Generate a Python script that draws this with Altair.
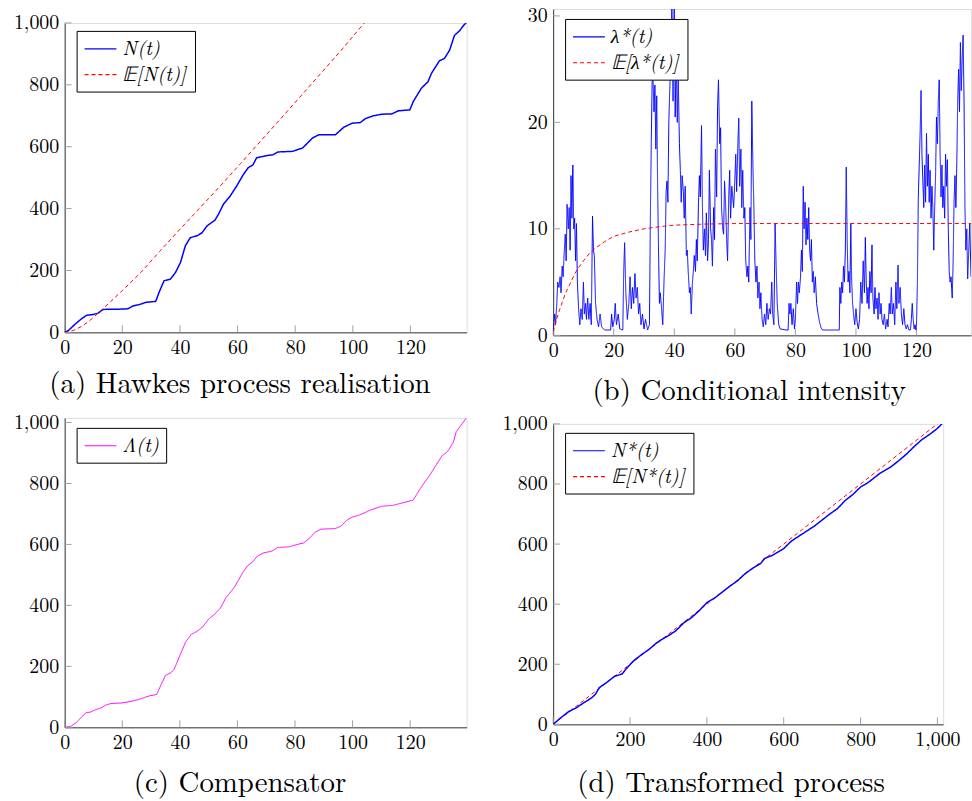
import altair as alt
import pandas as pd

FONT = "Latin Modern Roman"
BLUE = "#0000ff"
RED = "#ff0000"
MAGENTA = "#ff00ff"
AXIS_COLOR = "#3a3a3a"
TICK_COLOR = "#a0a0a0"

# ---------------- (a) Hawkes process realisation ----------------
a_t = [0, 1.3, 3.8, 6.0, 7.6, 10.0, 11.6, 13.3, 16.0, 19.0, 21.9, 23.6, 26.0, 28.2, 31.6,
       32.8, 34.5, 36.7, 38.5, 40.2, 41.9, 43.6, 45.9, 47.7, 49.4, 52.2, 53.4, 55.1, 57.4,
       59.7, 62.0, 63.7, 65.4, 66.6, 70.0, 72.3, 74.0, 79.1, 82.6, 86.0, 88.3, 94.0, 96.9,
       99.8, 102.6, 104.4, 107.2, 110.0, 113.5, 115.8, 119.8, 121.0, 123.8, 126.1, 127.3,
       130.1, 131.8, 133.6, 135.3, 137.0, 138.7, 139.5]
a_N = [0, 6, 28, 45, 55, 58, 62, 74, 75, 75, 76, 85, 90, 97, 100,
       130, 167, 172, 194, 226, 280, 306, 312, 322, 344, 363, 382, 414, 440,
       473, 510, 532, 542, 564, 571, 574, 583, 585, 596, 628, 639, 639, 663,
       676, 678, 691, 700, 705, 706, 716, 719, 746, 789, 810, 837,
       878, 885, 912, 960, 974, 995, 1000]
a_Et = [0, 2, 4, 6, 8, 10, 12.7, 16, 20, 26.5, 33, 40, 47, 54, 61, 68, 75, 82, 89, 96, 104]
a_E = [0, 3, 10, 20, 33, 48, 71, 100, 135, 194, 262, 333, 403, 473, 545, 618, 691, 764, 838, 912, 1000]

# ---------------- (b) Conditional intensity ----------------
b_t = [0.0, 0.5, 0.8, 1.2, 1.5, 1.9, 2.3, 2.6, 3.0, 3.3, 3.6, 4.0, 4.3, 4.6, 5.0, 5.3, 5.6, 5.9,
       6.2, 6.5, 6.8, 7.1, 7.4, 7.7, 8.0, 8.4, 8.8, 9.2, 9.6, 10.0, 10.3, 10.7, 11.0, 11.4, 11.8,
       12.2, 12.6, 13.0, 13.3, 13.6, 14.0, 14.5, 15.0, 15.5, 16.0, 17.0, 19.0, 19.3, 19.7, 20.2,
       20.5, 20.9, 21.5, 22.0, 23.0, 23.3, 23.6, 24.0, 24.5, 25.0, 25.4, 25.8, 26.2, 26.6, 27.0,
       27.4, 27.8, 28.2, 28.6, 29.0, 29.5, 30.0, 30.5, 31.2, 31.8, 32.1, 32.4, 32.8, 33.0, 33.3,
       33.6, 33.9, 34.2, 34.5, 34.8, 35.1, 35.4, 35.8, 36.2, 36.6, 37.0, 37.3, 37.6, 37.9, 38.2,
       38.5, 38.9, 39.2, 39.6, 40.0, 40.3, 40.6, 41.0, 41.3, 41.7, 42.0, 42.3, 42.6, 43.0, 43.3,
       43.6, 44.0, 44.3, 44.6, 45.0, 45.3, 45.6, 46.0, 46.3, 46.6, 47.0, 47.3, 47.6, 48.0, 48.3,
       48.6, 49.0, 49.3, 49.6, 50.0, 50.3, 50.6, 51.0, 51.3, 51.6, 52.0, 52.3, 52.6, 53.0, 53.3,
       53.6, 54.0, 54.3, 54.6, 55.0, 55.3, 55.6, 56.0, 56.3, 56.6, 57.0, 57.3, 57.6, 58.0, 58.3,
       58.6, 59.0, 59.3, 59.6, 60.0, 60.3, 60.6, 61.0, 61.3, 61.6, 62.0, 62.3, 62.6, 63.0, 63.3,
       63.6, 64.0, 64.3, 64.6, 65.0, 65.3, 65.6, 66.0, 66.3, 66.6, 67.0, 67.3, 67.6, 68.0, 68.3,
       68.6, 69.0, 69.4, 69.8, 70.2, 70.6, 71.0, 71.4, 71.8, 72.2, 72.5, 72.9, 73.3, 73.6, 74.0,
       74.5, 75.0, 77.0, 77.6, 77.9, 78.2, 78.5, 78.9, 79.3, 79.7, 80.0, 80.4, 80.7, 81.0, 81.3,
       81.7, 82.0, 82.3, 82.6, 82.9, 83.2, 83.5, 83.8, 84.1, 84.4, 84.7, 85.0, 85.3, 85.6, 85.9,
       86.2, 86.6, 87.0, 87.5, 88.0, 88.5, 89.0, 94.5, 94.7, 95.0, 95.3, 95.6, 95.9, 96.2, 96.5,
       96.8, 97.1, 97.4, 97.7, 98.0, 98.3, 98.6, 98.9, 99.2, 99.6, 100.0, 100.4, 100.8, 101.2,
       101.6, 102.0, 102.4, 102.8, 103.1, 103.4, 103.7, 104.0, 104.3, 104.6, 105.0, 105.3, 105.6,
       106.0, 106.3, 106.6, 107.0, 107.3, 107.6, 108.0, 108.3, 108.6, 109.0, 109.4, 109.8, 110.3,
       110.6, 111.0, 111.3, 111.7, 112.0, 112.4, 112.8, 113.2, 113.5, 113.9, 114.2, 114.6, 115.0,
       115.4, 115.8, 116.2, 116.6, 117.0, 117.5, 118.0, 118.3, 118.6, 118.9, 119.2, 119.5, 119.8,
       120.0, 120.3, 120.6, 120.9, 121.2, 121.5, 121.8, 122.1, 122.4, 122.7, 123.0, 123.3, 123.6,
       123.9, 124.2, 124.5, 124.8, 125.1, 125.4, 125.7, 126.0, 126.3, 126.6, 126.9, 127.2, 127.5,
       127.8, 128.1, 128.4, 128.7, 129.0, 129.3, 129.6, 129.9, 130.2, 130.5, 130.8, 131.1, 131.4,
       131.8, 132.1, 132.4, 132.7, 133.0, 133.3, 133.6, 133.9, 134.2, 134.5, 134.8, 135.1, 135.4,
       135.7, 136.0, 136.3, 136.6, 136.9, 137.2, 137.6, 138.0]
b_v = [0.5, 2.0, 1.0, 3.0, 5.0, 4.5, 5.5, 4.0, 6.5, 5.5, 7.5, 9.5, 7.0, 12.3, 10.0, 12.0, 8.0, 15.0,
       11.0, 16.0, 10.0, 11.0, 7.0, 10.5, 5.0, 2.5, 1.0, 2.5, 1.5, 5.0, 2.0, 3.0, 1.5, 3.5, 1.5,
       3.0, 1.0, 11.2, 8.0, 7.5, 3.0, 1.5, 0.8, 2.0, 0.8, 0.5, 0.5, 2.0, 0.8, 1.5,
       3.0, 1.0, 2.0, 0.6, 0.5, 6.0, 8.7, 4.0, 1.5, 3.0, 5.5, 2.5, 4.5, 3.0, 5.8,
       3.5, 4.5, 2.0, 3.0, 1.0, 2.0, 0.6, 1.5, 0.5, 1.0, 11.0, 18.0, 26.0, 24.0, 21.0,
       23.5, 17.5, 22.5, 14.0, 8.0, 3.0, 4.0, 2.5, 1.0, 5.0, 8.0, 13.5, 14.5, 12.5, 20.0,
       23.0, 26.0, 31.5, 22.0, 31.5, 20.5, 26.0, 20.0, 24.5, 18.0, 15.5, 12.5, 15.0, 13.5, 11.0,
       14.0, 7.5, 8.0, 6.0, 4.0, 4.5, 2.0, 5.0, 6.0, 7.5, 6.0, 9.0, 7.0, 12.5, 15.0,
       13.0, 19.7, 12.0, 8.0, 10.0, 7.5, 11.5, 7.0, 9.0, 15.5, 10.0, 9.0, 6.5, 12.0, 9.0,
       17.5, 13.0, 21.5, 24.0, 18.0, 19.5, 12.0, 10.0, 9.5, 14.5, 12.0, 9.0, 7.0, 13.0, 15.5,
       11.0, 14.0, 13.0, 12.0, 14.5, 17.0, 13.5, 18.0, 20.4, 14.0, 17.5, 12.0, 15.5, 11.0, 12.0,
       7.0, 5.5, 6.5, 5.0, 12.0, 9.0, 22.0, 15.5, 12.0, 7.0, 5.0, 6.5, 3.5, 5.0, 2.5,
       4.0, 1.5, 0.8, 2.0, 1.0, 3.0, 1.5, 2.5, 2.0, 5.0, 2.0, 1.0, 10.5, 7.0, 3.0,
       1.0, 0.6, 0.5, 0.5, 3.0, 2.0, 3.0, 1.0, 2.5, 0.6, 1.5, 5.0, 3.0, 5.0, 4.0,
       5.5, 8.0, 6.0, 14.0, 10.0, 12.5, 8.5, 11.0, 9.0, 12.0, 8.0, 7.0, 9.0, 5.0, 6.0,
       4.0, 5.5, 3.0, 2.0, 1.2, 0.7, 0.5, 0.5, 4.5, 3.0, 5.0, 4.0, 6.5, 5.0, 8.0,
       15.8, 9.0, 5.0, 6.0, 4.0, 10.5, 5.0, 3.0, 2.0, 1.0, 2.5, 1.2, 0.6, 1.5,
       5.0, 3.0, 7.0, 4.0, 9.2, 5.0, 3.0, 4.5, 2.5, 6.0, 4.0, 8.5, 3.5,
       2.0, 4.5, 2.5, 3.5, 1.5, 4.0, 2.0, 3.0, 1.5, 1.0, 2.0, 0.6, 1.5,
       0.8, 3.0, 2.0, 4.5, 2.0, 3.0, 1.0, 5.0, 2.5, 6.6, 3.0, 4.5, 2.0,
       1.0, 2.5, 1.0, 0.6, 1.0, 0.5, 0.5, 1.5, 3.0, 1.5, 0.6, 1.0, 0.5,
       1.0, 5.0, 13.0, 16.0, 19.0, 23.0, 17.0, 14.5, 12.0, 16.0, 12.5, 19.0, 14.0,
       17.0, 12.5, 15.5, 11.0, 14.0, 12.0, 8.0, 12.0, 15.0, 20.5, 18.0, 22.0, 24.0,
       17.0, 13.0, 16.0, 12.0, 14.0, 11.0, 17.0, 14.0, 16.5, 10.0, 6.0, 5.0, 5.5,
       3.5, 7.0, 12.5, 15.0, 12.0, 16.0, 22.0, 25.0, 21.0, 27.5, 23.0, 26.0, 28.2,
       22.0, 12.0, 8.0, 10.0, 5.3, 7.5, 10.5, 5.5]
b_Et = [0, 1, 2, 3, 4, 5, 6, 7, 8, 10, 12, 14, 17, 20, 25, 30, 35, 40, 50, 60, 138]
b_E = [0.3, 1.4, 2.3, 3.1, 3.9, 4.5, 5.1, 5.7, 6.2, 7.0, 7.7, 8.2, 8.8, 9.3, 9.7, 10.0, 10.2, 10.35, 10.45, 10.5, 10.5]

# ---------------- (c) Compensator ----------------
c_t = [0, 2, 4, 6, 7.5, 9, 10, 13, 14, 16, 20, 23, 26, 29, 32, 33, 35, 37, 38, 40, 42, 44, 46,
       48, 50, 52, 54, 56, 59, 62, 63.5, 65, 67, 69, 72, 74, 78, 80, 83, 85, 87, 89, 94, 96,
       98, 100, 102, 104, 106, 110, 114, 118, 121, 124, 127, 129, 131, 133, 135, 136, 138, 139.5]
c_L = [0, 3, 15, 35, 48, 50, 55, 65, 72, 78, 80, 85, 92, 102, 108, 130, 170, 180, 190, 235, 280,
       305, 315, 330, 355, 370, 390, 425, 460, 510, 530, 540, 562, 572, 578, 590, 592, 598, 605,
       620, 640, 650, 652, 660, 680, 690, 695, 703, 712, 725, 728, 738, 745, 790, 830, 860, 890,
       905, 935, 970, 995, 1015]

# ---------------- (d) Transformed process ----------------
d_t = [0, 20, 40, 60, 80, 100, 110, 120, 140, 160, 180, 190, 210, 230, 250, 270, 280, 300, 320,
       340, 360, 380, 400, 420, 440, 460, 480, 500, 520, 540, 550, 570, 600, 620, 650, 680, 700,
       720, 740, 760, 780, 800, 820, 850, 880, 900, 920, 940, 960, 980, 1000, 1012]
d_N = [0, 22, 42, 55, 72, 88, 100, 122, 140, 160, 168, 185, 212, 232, 250, 272, 280, 295, 312,
       338, 355, 378, 405, 420, 440, 460, 478, 502, 520, 535, 552, 562, 585, 610, 635, 660, 680,
       700, 718, 745, 765, 790, 805, 835, 858, 878, 900, 925, 948, 965, 985, 1000]
d_Et = [0, 1005]
d_E = [0, 1005]

ticks_140 = [0, 20, 40, 60, 80, 100, 120]
ticks_1000 = [0, 200, 400, 600, 800, 1000]
ticks_30 = [0, 10, 20, 30]

SOLID = [1, 0]
DASH = [4, 3]
LEGEND_LINE = "M-1.6,0L1.6,0"


def panel(series, legend_order, xdom, ydom, xticks, yticks, w, h, lx, ly, caption, cap_off):
    xs = alt.Scale(domain=xdom, nice=False, zero=False)
    ys = alt.Scale(domain=ydom, nice=False, zero=False)
    common = dict(ticks=False, grid=False, title=None, labelFlush=False, labelOverlap=False,
                  labelFont=FONT, labelFontSize=20, labelColor="black",
                  domainColor=AXIS_COLOR, domainWidth=1, format=",.0f")
    xax = alt.Axis(values=xticks, labelPadding=5, **common)
    yax = alt.Axis(values=yticks, labelPadding=6, **common)
    by_name = {s[2]: s for s in series}
    names = legend_order
    colors = [by_name[n][3] for n in names]
    dashes = [by_name[n][4] for n in names]
    leg = alt.Legend(orient="none", legendX=lx, legendY=ly, title=None,
                     symbolType=LEGEND_LINE, symbolSize=400, symbolStrokeWidth=1.2,
                     symbolOffset=6, labelOffset=11,
                     labelFont=FONT, labelFontSize=20, labelFontStyle="italic",
                     labelColor="black", padding=7, rowPadding=5,
                     strokeColor="black", fillColor="white", cornerRadius=0)
    tx = alt.Chart(pd.DataFrame({"v": xticks})).mark_rule(color=TICK_COLOR, strokeWidth=1).encode(
        x=alt.X("v:Q", scale=xs, axis=xax), y=alt.value(h), y2=alt.value(h - 7))
    ty = alt.Chart(pd.DataFrame({"v": yticks})).mark_rule(color=TICK_COLOR, strokeWidth=1).encode(
        y=alt.Y("v:Q", scale=ys, axis=yax), x=alt.value(0), x2=alt.value(7))
    layers = [tx, ty]
    for tl, vl, name, color, dash, sw in series:
        df = pd.DataFrame({"t": tl, "v": vl, "s": [name] * len(tl)})
        layers.append(alt.Chart(df).mark_line(strokeWidth=sw, clip=True).encode(
            x=alt.X("t:Q", scale=xs, axis=xax),
            y=alt.Y("v:Q", scale=ys, axis=yax),
            color=alt.Color("s:N", scale=alt.Scale(domain=names, range=colors), legend=leg),
            strokeDash=alt.StrokeDash("s:N", scale=alt.Scale(domain=names, range=dashes), legend=leg),
        ))
    return alt.layer(*layers).properties(
        width=w, height=h,
        title=alt.TitleParams(caption, orient="bottom", anchor="middle", frame="bounds",
                              font=FONT, fontSize=29, fontWeight="normal", color="black",
                              offset=cap_off))


def spacer(w, h):
    return alt.Chart(pd.DataFrame({"z": [0]})).mark_point(opacity=0).properties(width=w, height=h)


def indep(c):
    return c.resolve_scale(color="independent", strokeDash="independent").resolve_legend(
        color="independent", strokeDash="independent")


pa = panel([(a_t, a_N, "N(t)", BLUE, SOLID, 1.5),
            (a_Et, a_E, "𝔼[N(t)]", RED, DASH, 1.0)],
           ["N(t)", "𝔼[N(t)]"],
           [0, 139.5], [0, 1000], ticks_140, ticks_1000, 404, 311, 12, 8,
           "(a) Hawkes process realisation", 13)
pb = panel([(b_t, b_v, "λ*(t)", BLUE, SOLID, 1.0),
            (b_Et, b_E, "𝔼[λ*(t)]", RED, DASH, 1.0)],
           ["λ*(t)", "𝔼[λ*(t)]"],
           [0, 138], [0, 30.65], ticks_140, ticks_30, 420, 328, 12, 10,
           "(b) Conditional intensity", 17)
pc = panel([(c_t, c_L, "Λ(t)", MAGENTA, SOLID, 1.0)],
           ["Λ(t)"],
           [0, 139.6], [0, 1015], ticks_140, ticks_1000, 404, 311, 12, 10,
           "(c) Compensator", 17)
pdd = panel([(d_Et, d_E, "𝔼[N*(t)]", RED, DASH, 1.0),
             (d_t, d_N, "N*(t)", BLUE, SOLID, 1.5)],
            ["N*(t)", "𝔼[N*(t)]"],
            [0, 1015], [0, 1000], ticks_1000, ticks_1000, 392, 302, 12, 9,
            "(d) Transformed process", 20)

col1 = indep(alt.vconcat(spacer(404, 14), pa, spacer(404, 86), pc, spacing=0, bounds="flush"))
col2 = indep(alt.vconcat(pb, spacer(420, 89), pdd, spacing=0, bounds="flush"))

chart = indep(alt.hconcat(col1, col2, spacing=33)).properties(
    padding={"left": 12, "top": 3, "right": 0, "bottom": 0}
).configure_view(stroke=None).configure(background="white")

chart.save("out.html", embed_options={"renderer": "svg", "actions": False})
